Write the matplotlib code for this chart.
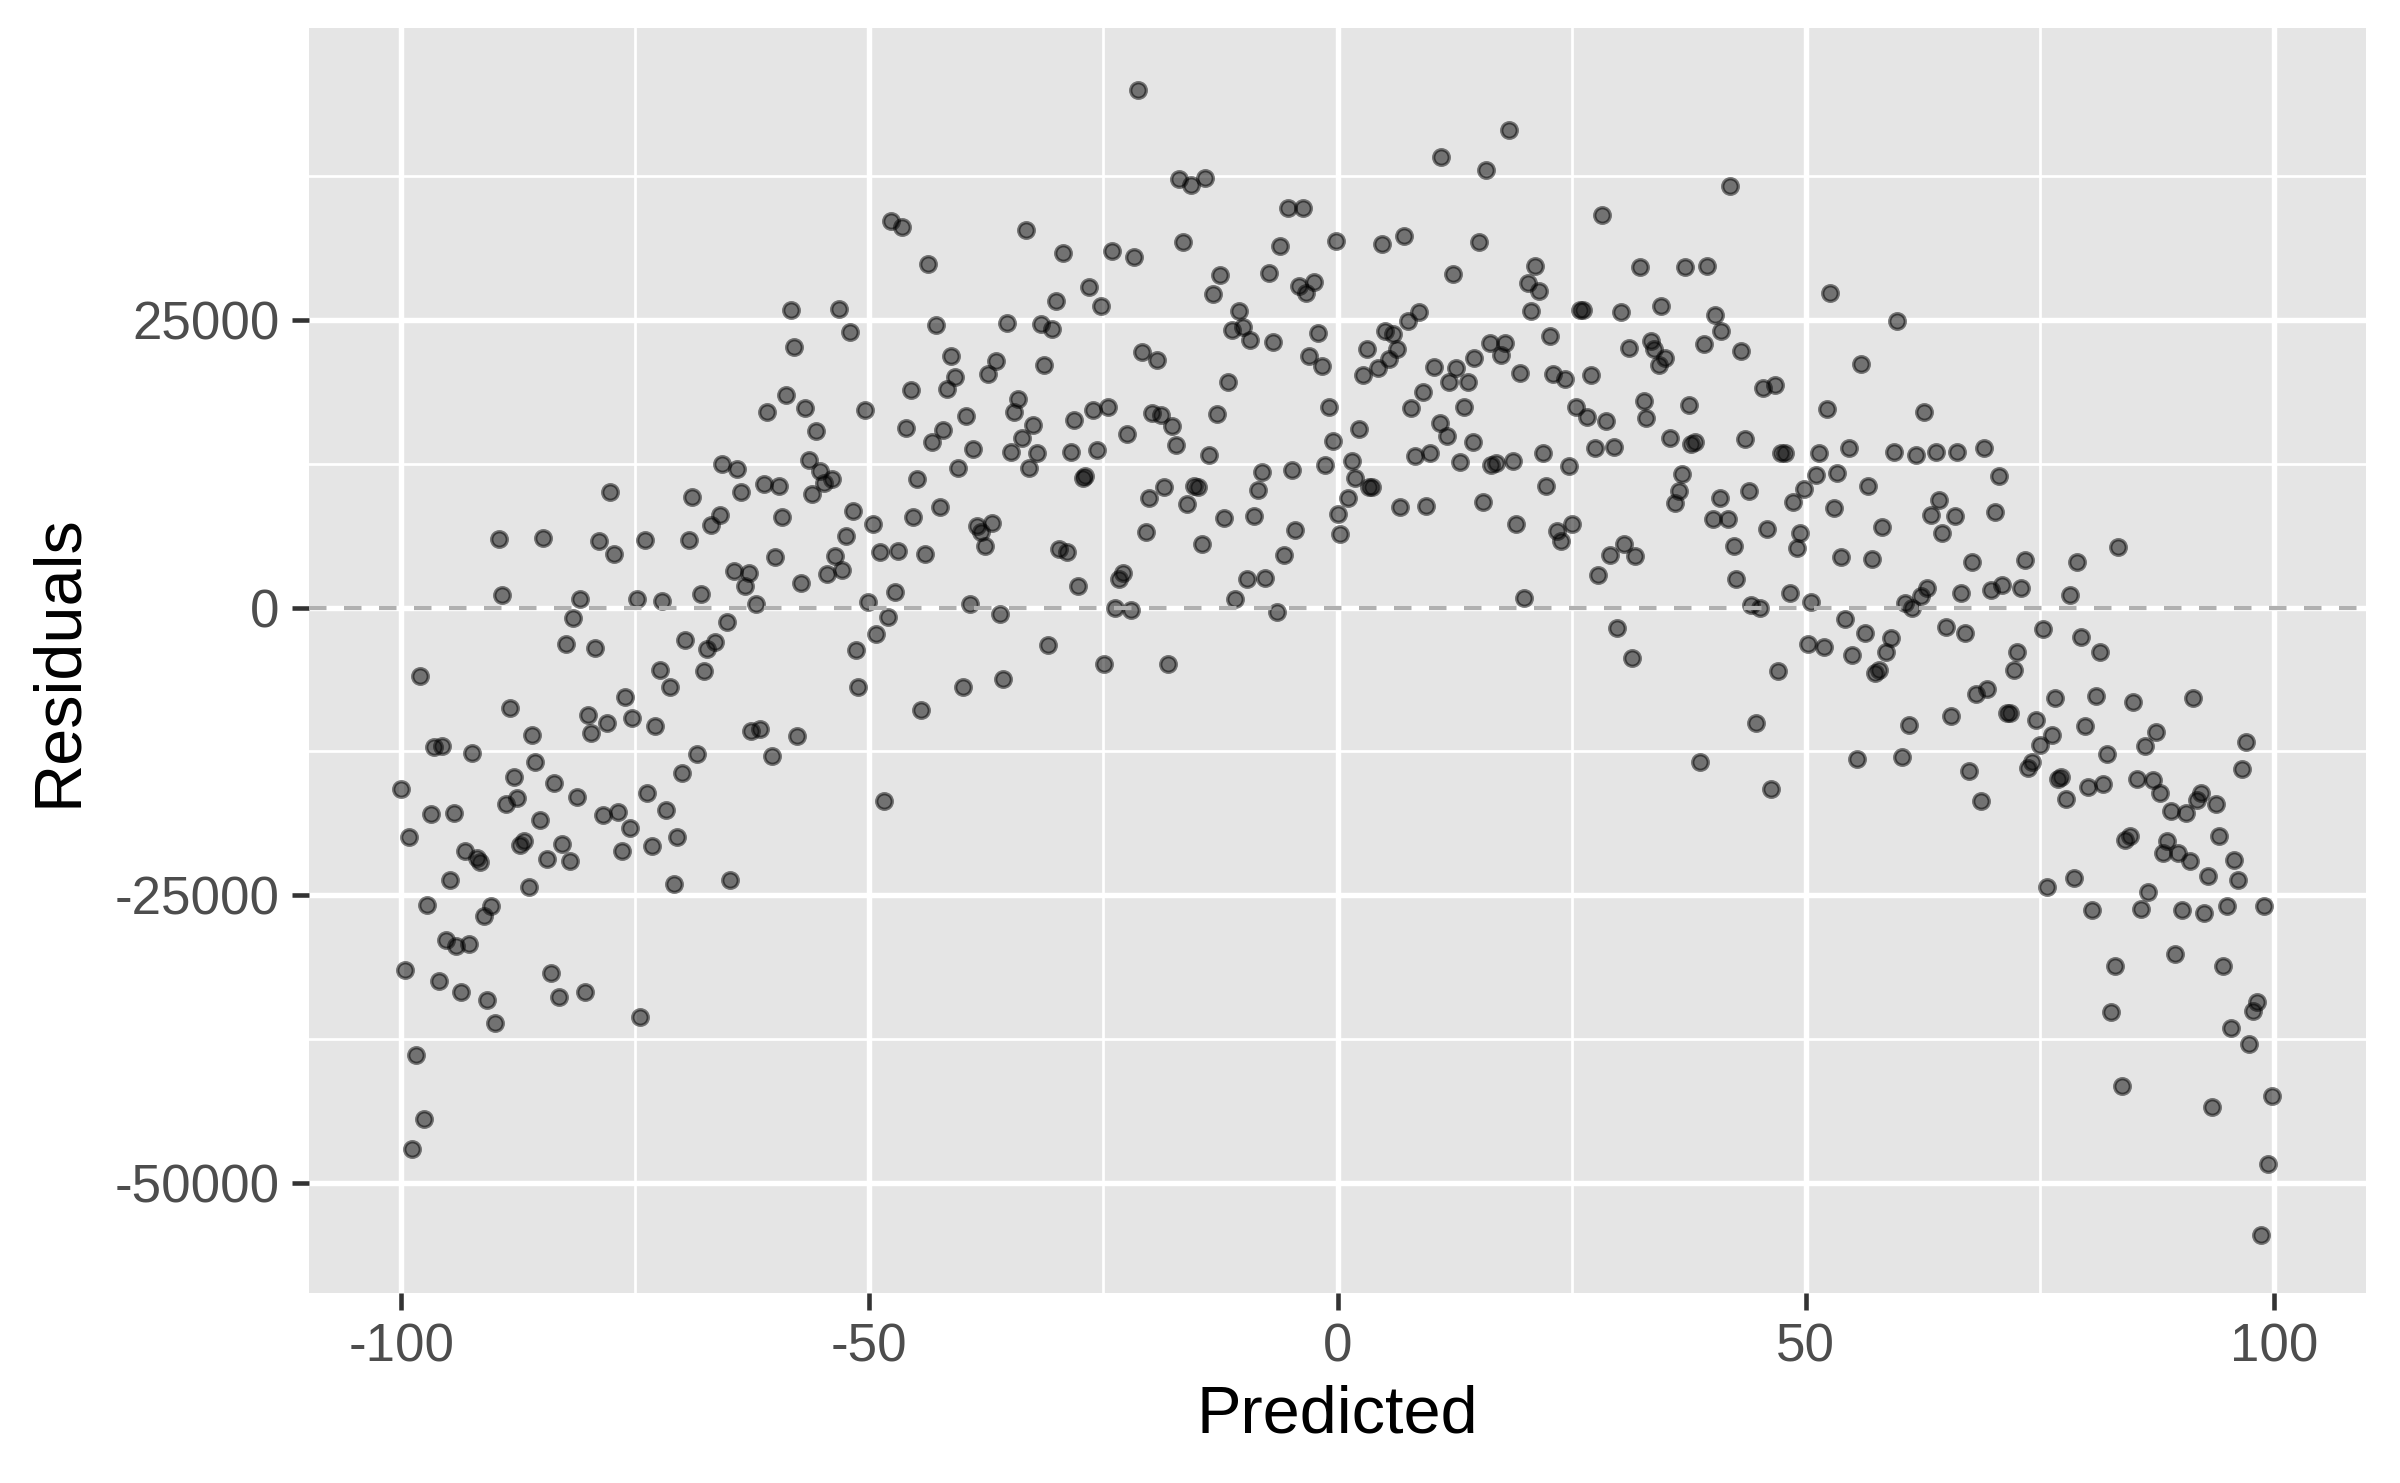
import matplotlib.pyplot as plt
import numpy as np

plt.rcParams['font.family'] = ['Liberation Sans', 'DejaVu Sans']
plt.rcParams['axes.unicode_minus'] = False

# points, grouped by region (left to right)
pred_far_left_low = [-98.0, -72.4, -67.7, -71.3, -51.2, -88.4, -76.1, -80.0, -78.0, -75.3, -72.9, -79.7, -86.0, -62.6,
                     -61.7, -57.7, -96.5, -95.6, -92.4, -68.4, -60.4, -70.0, -85.7, -100.0, -88.0, -83.7, -81.2, -73.7,
                     -87.6, -88.8, -71.7, -96.8, -94.4, -78.5, -76.9, -85.2, -75.6, -99.2, -70.5, -87.3, -86.9, -82.8,
                     -93.2, -91.9, -91.6, -84.4, -82.0, -76.4, -73.2, -94.8, -86.4, -70.9, -64.9, -97.2, -90.4, -91.2,
                     -95.2, -94.1, -92.8, -99.6, -96.0, -93.6, -90.8, -90.0, -84.0, -83.2, -80.4, -74.5, -98.4, -97.6,
                     -98.8]
resid_far_left_low = [-5925, -5447, -5480, -6854, -6854, -8739, -7783, -9295, -9981, -9564, -10251, -10911, -11076,
                      -10737, -10563, -11146, -12110, -12040, -12657, -12726, -12866, -14342, -13413, -15715, -14716,
                      -15272, -16436, -16097, -16575, -17088, -17609, -17947, -17878, -18052, -17739, -18425, -19120,
                      -19902, -19902, -20597, -20250, -20562, -21144, -21726, -22074, -21796, -22039, -21144, -20693,
                      -23681, -24237, -23994, -23620, -25853, -25922, -26808, -28841, -29353, -29180, -31482, -32446,
                      -33402, -34123, -36086, -31760, -33819, -33402, -35574, -38866, -44399, -47040]

pred_far_left_high = [-58.4, -53.2, -52.1, -58.0, -58.9, -60.9, -56.9, -55.7, -65.7, -64.1, -56.4, -55.3, -54.0, -54.8,
                      -63.7, -61.3, -59.7, -56.1, -77.7, -68.9, -59.3, -66.0, -66.9, -51.7, -89.6, -84.9, -78.9, -77.3,
                      -74.0, -69.3, -52.5, -60.1, -53.7, -64.5, -62.9, -63.3, -54.5, -52.9, -57.3, -89.2, -80.9, -74.8,
                      -72.1, -68.0, -62.1, -81.6, -65.2, -82.4, -79.3, -69.7, -66.5, -67.3, -51.4]
resid_far_left_high = [25826, 25931, 23907, 22664, 18512, 17035, 17339, 15315, 12466, 12014, 12805, 11884, 11163,
                       10850, 10025, 10746, 10607, 9851, 10025, 9616, 7896, 8070, 7176, 8374, 5977, 6072, 5803, 4700,
                       5872, 5907, 6211, 4396, 4465, 3188, 2988, 1885, 2884, 3292, 2163, 1129, 721, 782, 547, 1199, 339,
                       -930, -1242, -3127, -3544, -2815, -2988, -3614, -3649]

pred_mid_left = [-21.3, -16.9, -15.7, -14.1, -5.3, -3.7, -0.2, -47.7, -46.5, -33.3, -43.7, -29.3, -24.1, -21.7, -16.5,
                 -12.5, -13.3, -7.3, -6.1, -4.1, -2.5, -3.4, -26.5, -30.1, -25.3, -10.5, -11.3, -10.1, -9.3, -6.9,
                 -2.1, -42.9, -35.3, -31.7, -30.5, -20.9, -19.3, -3.0, -1.7, -41.3, -36.5, -37.3, -40.9, -41.7, -45.6,
                 -31.3, -11.7, -50.5, -34.1, -34.5, -39.7, -26.1, -24.5, -19.8, -18.9, -12.9, -0.9, -46.1, -42.1,
                 -43.3, -32.5, -33.7, -28.1, -22.5, -17.7, -17.3, -0.5, -38.9, -34.9, -32.1, -28.5, -25.7, -13.7,
                 -1.3, -40.5, -32.9, -44.9, -27.2, -27.0, -8.1, -4.9, -8.5, -18.5, -20.1, -15.3, -14.9, -16.1, -12.1,
                 -8.9, -4.5, 0.0, 0.3, -42.5, -45.3, -49.6, -38.5, -36.9, -38.1, -37.7, -48.9, -46.9, -44.1, -29.7,
                 -28.9, -20.5, -14.5, -5.7, -22.9, -23.3, -27.7, -9.7, -7.7, -47.3, -50.1, -39.3, -10.9, -23.8, -22.1,
                 -6.5, -36.1, -48.0, -49.3, -30.9, -24.9, -18.1, -44.5, -40.0, -35.7, -48.4]
resid_mid_left = [44955, 37198, 36746, 37302, 34687, 34687, 31838, 33558, 33106, 32837, 29883, 30804, 31013, 30465,
                  31733, 28884, 27234, 29058, 31429, 27955, 28302, 27303, 27850, 26617, 26174, 25792, 24072, 24350,
                  23246, 23046, 23872, 24558, 24697, 24628, 24245, 22221, 21500, 21874, 21023, 21839, 21465, 20293,
                  20058, 19025, 18920, 21083, 19572, 17174, 18095, 17035, 16653, 17140, 17443, 16931, 16757, 16827,
                  17443, 15593, 15454, 14386, 15828, 14768, 16279, 15072, 15793, 14151, 14490, 13804, 13526, 13465,
                  13526, 13700, 13222, 12431, 12118, 12118, 11198, 11267, 11432, 11814, 11953, 10198, 10442, 9547,
                  10537, 10502, 8965, 7827, 7931, 6732, 8140, 6420, 8757, 7896, 7245, 7106, 7384, 6559, 5351, 4804,
                  4943, 4630, 5082, 4873, 6593, 5560, 4535, 2988, 2467, 1885, 2502, 2571, 1338, 513, 304, 721, -35,
                  -174, -382, -591, -791, -2302, -3266, -4882, -4917, -8878, -6924, -6237, -16818]

pred_mid_right = [18.3, 11.1, 15.9, 41.9, 28.3, 4.7, 7.1, 15.1, 12.3, 21.1, 20.3, 21.5, 20.7, 32.3, 37.1, 39.5, 25.9,
                  26.2, 30.3, 34.6, 40.3, 41.0, 8.7, 7.5, 5.1, 5.9, 3.1, 6.4, 5.5, 4.3, 2.7, 16.3, 17.9, 17.5, 22.7,
                  14.6, 10.3, 12.7, 11.9, 13.9, 19.5, 23.0, 24.3, 27.1, 31.1, 33.5, 33.8, 35.0, 34.3, 39.1, 43.1, 45.4,
                  46.7, 9.1, 7.9, 13.5, 25.5, 26.6, 28.7, 32.7, 33.0, 37.5, 2.3, 10.9, 11.7, 14.5, 8.3, 9.9, 13.1,
                  16.4, 16.9, 18.7, 21.9, 24.7, 27.5, 29.5, 35.5, 37.8, 38.2, 43.5, 47.4, 47.8, 51.4, 1.5, 1.9, 3.7,
                  3.4, 1.1, 6.7, 9.5, 15.5, 22.3, 19.1, 23.4, 25.0, 23.9, 36.8, 36.5, 36.1, 40.9, 43.9, 40.1, 41.7,
                  45.9, 48.7, 49.8, 51.1, 49.4, 49.1, 42.3, 30.6, 29.1, 31.8, 27.8, 42.6, 19.9, 48.3, 44.2, 45.1, 50.6,
                  29.8, 31.5, 50.2, 52.0, 47.1, 44.7, 38.7, 46.3]
resid_mid_right = [41489, 39117, 38023, 36650, 34070, 31560, 32246, 31768, 29023, 29675, 28233, 27512, 25792, 29570,
                   29605, 29640, 25896, 25896, 25653, 26235, 25383, 24037, 25688, 24932, 24037, 23802, 22490, 22430,
                   21570, 20814, 20197, 23012, 23012, 21909, 23629, 21709, 20883, 20779, 19607, 19607, 20362, 20328,
                   19885, 20197, 22560, 23186, 22490, 21709, 21083, 22908, 22326, 19059, 19302, 18755, 17339, 17443,
                   17443, 16549, 16210, 17965, 16514, 17582, 15524, 16036, 14907, 14351, 13152, 13430, 12674, 12396,
                   12605, 12770, 13465, 12327, 13839, 13977, 14733, 14255, 14420, 14664, 13465, 13465, 13465, 12709,
                   11258, 10511, 10480, 9512, 8722, 8826, 9199, 10607, 7280, 6698, 7280, 5803, 11606, 10164, 9130,
                   9547, 10164, 7688, 7688, 6828, 9165, 10268, 11502, 6524, 5221, 5386, 5490, 4569, 4500, 2849, 2467,
                   817, 1234, 269, 0, 513, -1755, -4335, -3162, -3440, -5499, -10051, -13413, -15715]

pred_far_right_high = [52.6, 59.8, 55.9, 52.3, 62.6, 54.6, 59.4, 61.8, 63.9, 66.2, 69.1, 53.4, 56.7, 70.7, 53.0, 64.2,
                       63.4, 65.9, 70.2, 58.2, 64.6, 53.8, 57.1, 67.8, 73.4, 79.0, 83.4, 63.0, 62.3, 60.6, 61.4, 66.6,
                       69.8, 71.0, 73.0, 78.2, 54.2, 56.3, 65.0, 67.0, 75.4, 79.4, 81.4, 59.1, 58.6, 55.0, 72.6, 72.3]
resid_far_right_high = [27303, 24932, 21188, 17270, 16966, 13873, 13560, 13222, 13560, 13560, 13873, 11675, 10572,
                        11397, 8652, 9339, 8035, 7966, 8340, 7036, 6454, 4361, 4187, 3944, 4118, 3944, 5256, 1711, 1025,
                        443, 0, 1234, 1538, 1989, 1711, 1060, -964, -2172, -1651, -2233, -1824, -2580, -3848, -2650,
                        -3883, -4092, -3848, -5395]

pred_far_right_low = [57.4, 57.8, 68.2, 69.4, 76.6, 81.0, 85.0, 91.4, 61.0, 65.5, 71.5, 71.8, 74.6, 79.8, 76.3, 75.0,
                      87.4, 86.2, 82.2, 97.0, 55.5, 60.3, 67.5, 74.2, 73.8, 96.6, 68.7, 77.3, 77.0, 77.8, 80.2, 81.8,
                      85.4, 87.1, 87.8, 92.2, 91.8, 93.8, 89.0, 90.6, 84.6, 84.1, 94.2, 88.6, 88.2, 89.8, 91.0, 95.8,
                      93.0, 96.2, 78.7, 75.8, 86.6, 80.6, 85.8, 90.2, 92.6, 95.0, 99.0, 89.4, 83.0, 94.6, 98.2, 97.8,
                      82.6, 95.4, 97.4, 83.8, 93.4, 99.8, 99.4, 98.6]
resid_far_right_low = [-5655, -5377, -7471, -7097, -7853, -7679, -8192, -7853, -10216, -9425, -9121, -9121, -9773,
                       -10285, -11041, -11936, -10807, -12005, -12726, -11693, -13109, -13004, -14203, -13378, -13934,
                       -14030, -16783, -14716, -14924, -16644, -15610, -15307, -14855, -14994, -16097, -16062, -16714,
                       -17088, -17669, -17808, -19841, -20180, -19806, -20284, -21353, -21353, -22039, -21900, -23342,
                       -23681, -23446, -24271, -24715, -26226, -26191, -26296, -26539, -25948, -25948, -30109, -31108,
                       -31108, -34227, -35052, -35087, -36529, -37936, -41585, -43400, -42402, -48317, -54459]

predicted = np.concatenate([pred_far_left_low, pred_far_left_high, pred_mid_left,
                            pred_mid_right, pred_far_right_high, pred_far_right_low])
residuals = np.concatenate([resid_far_left_low, resid_far_left_high, resid_mid_left,
                            resid_mid_right, resid_far_right_high, resid_far_right_low])

fig = plt.figure(figsize=(8, 1483 / 300), dpi=300)
ax = fig.add_axes([309 / 2400, 1 - 1293 / 1483, (2366 - 309) / 2400, (1293 - 28) / 1483])
ax.set_facecolor('#E5E5E5')
ax.set_xlim(-109.85, 109.85)
ax.set_ylim(-59540, 50350)

ax.set_xticks([-100, -50, 0, 50, 100])
ax.set_xticks([-75, -25, 25, 75], minor=True)
ax.set_yticks([-50000, -25000, 0, 25000])
ax.set_yticks([-37500, -12500, 12500, 37500], minor=True)
ax.grid(which='major', color='white', lw=1.3)
ax.grid(which='minor', color='white', lw=0.65)
ax.set_axisbelow(True)
for s in ax.spines.values():
    s.set_visible(False)
ax.tick_params(which='major', length=4, width=1.1, color='#333333',
               labelcolor='#4D4D4D', labelsize=12.7, pad=3)
ax.tick_params(which='minor', length=0)

ax.scatter(predicted, residuals, s=14, c='black', alpha=0.5,
           edgecolors='black', linewidths=0.8, zorder=2)
ax.axhline(0, color='#B0B0B0', lw=1.0, linestyle=(0, (4.2, 4.2)), zorder=3)

ax.set_xlabel('Predicted', fontsize=16, labelpad=3)
ax.set_ylabel('Residuals', fontsize=16, labelpad=6)

fig.savefig('out.png', dpi=300)
